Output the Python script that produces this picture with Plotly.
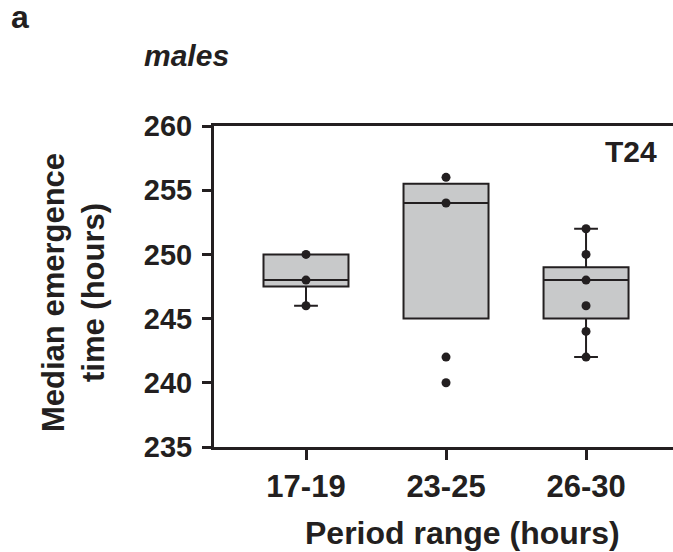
import plotly.graph_objects as go

categories = ["17-19", "23-25", "26-30"]
positions = [0, 1, 2]
q1 = [247.5, 245, 245]
median = [248, 254, 248]
q3 = [250, 255.5, 249]
lowerfence = [246, 245, 242]
upperfence = [250, 255.5, 252]
points = [
    [250, 248, 246],
    [256, 254, 242, 240],
    [252, 250, 248, 246, 244, 242],
]
yticks = [235, 240, 245, 250, 255, 260]

INK = "#231f20"
FONT = "Liberation Sans"

# plot area in pixels
L, R, T, B = 214, 673, 126, 447
W, H = R - L, B - T


def px(x):
    return (x - L) / W


def py(y):
    return (B - y) / H


fig = go.Figure()
for i, cat in enumerate(categories):
    fig.add_trace(go.Box(
        x=[positions[i]], q1=[q1[i]], median=[median[i]], q3=[q3[i]],
        lowerfence=[lowerfence[i]], upperfence=[upperfence[i]],
        width=0.607, whiskerwidth=0.28,
        fillcolor="#c8c9ca", line=dict(color=INK, width=2),
        boxpoints=False, showlegend=False, hoverinfo="skip",
    ))
    fig.add_trace(go.Scatter(
        x=[positions[i]] * len(points[i]), y=points[i], mode="markers",
        marker=dict(color=INK, size=9), showlegend=False, hoverinfo="skip",
    ))

fig.update_layout(
    width=673, height=552,
    margin=dict(l=L, r=673 - R, t=T, b=552 - B),
    plot_bgcolor="white", paper_bgcolor="white",
    font=dict(family=FONT, color=INK),
)
fig.update_xaxes(
    range=[-0.657, 2.621], tickvals=positions, ticktext=categories,
    showline=True, linecolor=INK, linewidth=3, mirror=True,
    ticks="outside", ticklen=10, tickwidth=3, tickcolor=INK,
    tickfont=dict(size=31, family=FONT, weight="bold", color=INK),
    showgrid=False, zeroline=False,
)
fig.update_yaxes(
    range=[235, 260], tickvals=yticks,
    showline=True, linecolor=INK, linewidth=3, mirror=False,
    ticks="outside", ticklen=9, tickwidth=3, tickcolor=INK,
    ticklabelstandoff=4,
    tickfont=dict(size=29, family=FONT, weight="bold", color=INK),
    showgrid=False, zeroline=False,
)
bold = dict(family=FONT, weight="bold", color=INK)
fig.add_annotation(text="Period range (hours)", xref="paper", yref="paper",
                   x=px(462), y=py(533), xanchor="center", yanchor="middle",
                   showarrow=False, font=dict(size=32, **bold))
fig.add_annotation(text="Median emergence<br>time (hours)", xref="paper", yref="paper",
                   x=px(73), y=py(293), xanchor="center", yanchor="middle",
                   textangle=-90, showarrow=False, font=dict(size=31, **bold))
fig.add_annotation(text="T24", xref="paper", yref="paper", x=px(659), y=py(151),
                   xanchor="right", yanchor="middle", showarrow=False,
                   font=dict(size=30, **bold))
fig.add_annotation(text="<i>males</i>", xref="paper", yref="paper",
                   x=px(142), y=py(56),
                   xanchor="left", yanchor="middle", showarrow=False,
                   font=dict(size=30, **bold))
fig.add_annotation(text="a", xref="paper", yref="paper",
                   x=px(9), y=py(17),
                   xanchor="left", yanchor="middle", showarrow=False,
                   font=dict(size=32, **bold))

fig.write_html("out.html")
